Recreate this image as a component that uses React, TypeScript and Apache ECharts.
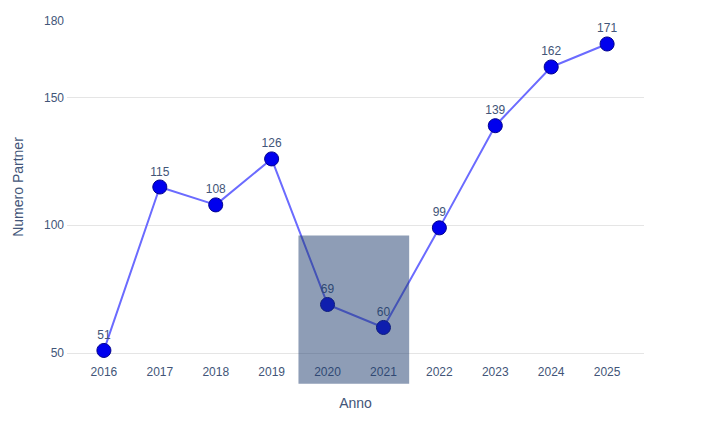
import React, { useEffect, useRef } from "react";
import * as echarts from "echarts";

const years = [2016, 2017, 2018, 2019, 2020, 2021, 2022, 2023, 2024, 2025];
const partners = [51, 115, 108, 126, 69, 60, 99, 139, 162, 171];
const yTicks = [50, 100, 150, 180];
// shaded highlight box in data coordinates: [x0, yTop, x1, yBottom]
const highlight = [[2019.48, 96, 2021.46, 38]];

export default function App() {
  const ref = useRef<HTMLDivElement>(null);
  useEffect(() => {
    if (!ref.current) return;
    const chart = echarts.init(ref.current, undefined, { renderer: "svg" });
    const textColor = "#425578";
    const font = "'Liberation Sans', Arial, sans-serif";
    chart.setOption({
      animation: false,
      backgroundColor: "#ffffff",
      textStyle: { fontFamily: font },
      grid: { left: 67, right: 73, top: 21, bottom: 95, containLabel: false },
      xAxis: {
        type: "value",
        min: 2015.34,
        max: 2025.66,
        name: "Anno",
        nameLocation: "middle",
        nameGap: 43,
        nameTextStyle: { color: textColor, fontSize: 14, fontFamily: font },
        axisLine: { show: false },
        axisTick: { show: false },
        splitLine: { show: false },
        axisLabel: {
          customValues: years,
          formatter: (v: number) => String(v),
          color: textColor,
          fontSize: 12,
          margin: 13,
          fontFamily: font,
        },
      },
      yAxis: {
        type: "value",
        min: 50,
        max: 180,
        interval: 50,
        name: "Numero Partner",
        nameLocation: "middle",
        nameGap: 42,
        nameTextStyle: { color: textColor, fontSize: 14, fontFamily: font },
        axisLine: { show: false },
        axisTick: { show: false },
        axisLabel: {
          customValues: yTicks,
          color: textColor,
          fontSize: 12,
          margin: 3,
          fontFamily: font,
        },
        splitLine: {
          show: true,
          lineStyle: { color: ["#e5e5e5", "#e5e5e5", "#e5e5e5", "rgba(0,0,0,0)"], width: 1 },
        },
      },
      series: [
        {
          type: "line",
          data: years.map((y, i) => [y, partners[i]]),
          symbol: "circle",
          symbolSize: 14,
          z: 3,
          lineStyle: { color: "#6b6bff", width: 2 },
          itemStyle: { color: "#0000ee", borderColor: "#00008b", borderWidth: 1 },
          label: {
            show: true,
            position: "top",
            distance: 2,
            color: textColor,
            fontSize: 12,
            fontFamily: font,
          },
        },
        {
          type: "custom",
          z: 10,
          clip: false,
          silent: true,
          data: highlight,
          encode: { x: [0, 2], y: [1, 3] },
          renderItem: (params: any, api: any) => {
            const p0 = api.coord([api.value(0), api.value(1)]);
            const p1 = api.coord([api.value(2), api.value(3)]);
            return {
              type: "rect",
              shape: { x: p0[0], y: p0[1], width: p1[0] - p0[0], height: p1[1] - p0[1] },
              style: { fill: "rgba(30,60,110,0.5)" },
            };
          },
        },
      ],
    });
    return () => chart.dispose();
  }, []);
  return <div ref={ref} style={{ width: 717, height: 448, margin: -8 }} />;
}
